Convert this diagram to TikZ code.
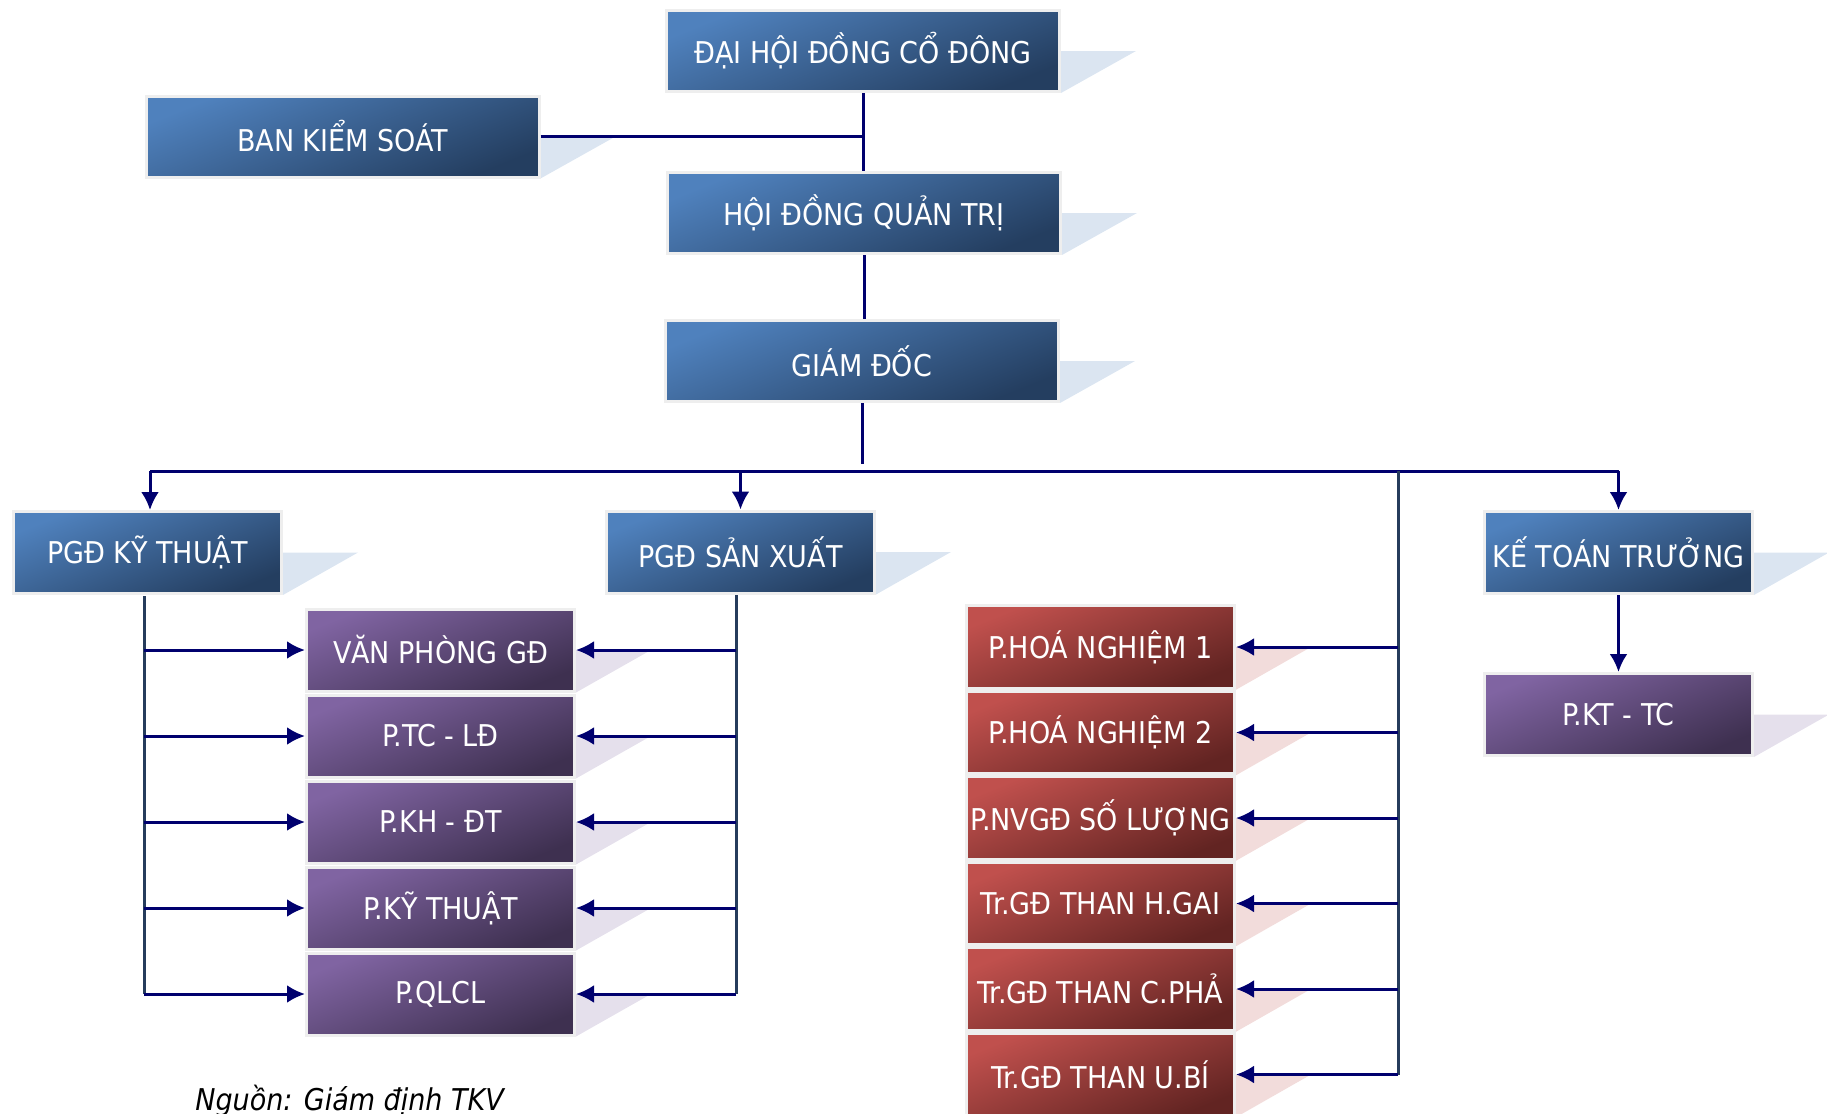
\documentclass[tikz,border=0pt]{standalone}
\usepackage{fontspec}
\setmainfont{DejaVu Sans Condensed}
\usetikzlibrary{arrows.meta,backgrounds,calc}
\definecolor{navyln}{RGB}{0,0,110}
\definecolor{trunk}{RGB}{38,60,92}
\definecolor{blueA}{RGB}{79,129,189}
\definecolor{blueB}{RGB}{36,62,96}
\definecolor{purA}{RGB}{128,100,162}
\definecolor{purB}{RGB}{62,48,80}
\definecolor{redA}{RGB}{192,80,77}
\definecolor{redB}{RGB}{98,36,34}
\definecolor{shBlue}{RGB}{219,229,241}
\definecolor{shPur}{RGB}{229,224,236}
\definecolor{shRed}{RGB}{242,220,219}
\definecolor{edgegray}{RGB}{238,238,238}
\newcommand{\shadowtri}[2]{\fill[#2] (#1.east) -- ++(75,0) -- (#1.south east) -- cycle;}
\begin{document}
\begin{tikzpicture}[x=0.5pt,y=-0.5pt,
  boxbase/.style={draw=edgegray, line width=1.5pt, text=white, inner sep=0pt,
    font=\fontsize{15}{18}\selectfont},
  bigbox/.style={minimum width=196.5pt, minimum height=40.5pt},
  smallbox/.style={minimum width=134pt, minimum height=41pt},
  bluebox/.style={boxbase, top color=blueA, bottom color=blueB, shading angle=22},
  purbox/.style={boxbase, top color=purA, bottom color=purB, shading angle=22, smallbox},
  redbox/.style={boxbase, top color=redA, bottom color=redB, shading angle=22, smallbox, minimum height=41.25pt},
  ln/.style={draw=navyln, line width=1.5pt},
  trunkln/.style={draw=trunk, line width=1.5pt},
  arr/.style={ln, -{Latex[length=9pt,width=9pt]}}
]
\useasboundingbox (0,0) rectangle (1827,1114);

% top level
\node[bluebox, bigbox] (dh) at (863,51) {ĐẠI HỘI ĐỒNG CỔ ĐÔNG};
\node[bluebox, bigbox] (bks) at (342.5,136.5) {BAN KIỂM SOÁT};
\node[bluebox, bigbox] (hdqt) at (864,213) {HỘI ĐỒNG QUẢN TRỊ};
\node[bluebox, bigbox] (gd) at (862,361) {GIÁM ĐỐC};

% second level
\node[bluebox, smallbox] (pkt) at (147.5,552.5) {PGĐ KỸ THUẬT};
\node[bluebox, smallbox] (psx) at (740.5,552) {PGĐ SẢN XUẤT};
\node[bluebox, smallbox] (ktt) at (1618.5,552.5) {KẾ TOÁN TRƯỞNG};
\node[purbox] (pkttc) at (1618.5,714.5) {P.KT - TC};

% purple column
\node[purbox] (p1) at (440.5,650) {VĂN PHÒNG GĐ};
\node[purbox] (p2) at (440.5,736) {P.TC - LĐ};
\node[purbox] (p3) at (440.5,822) {P.KH - ĐT};
\node[purbox] (p4) at (440.5,908) {P.KỸ THUẬT};
\node[purbox] (p5) at (440.5,994) {P.QLCL};

% red column
\node[redbox] (r1) at (1100.5,647) {P.HOÁ NGHIỆM 1};
\node[redbox] (r2) at (1100.5,732.5) {P.HOÁ NGHIỆM 2};
\node[redbox] (r3) at (1100.5,818) {P.NVGĐ SỐ LƯỢNG};
\node[redbox] (r4) at (1100.5,903.5) {Tr.GĐ THAN H.GAI};
\node[redbox] (r5) at (1100.5,989) {Tr.GĐ THAN C.PHẢ};
\node[redbox] (r6) at (1100.5,1074.5) {Tr.GĐ THAN U.BÍ};

% source
\node[anchor=base west, inner sep=0pt, font=\itshape\fontsize{15}{18}\selectfont] (src) at (195,1110) {Nguồn: Giám định TKV};

% shadows
\begin{scope}[on background layer]
  \foreach \n in {dh,bks,hdqt,gd,pkt,psx,ktt} {\shadowtri{\n}{shBlue}}
  \foreach \n in {pkttc,p1,p2,p3,p4,p5} {\shadowtri{\n}{shPur}}
  \foreach \n in {r1,r2,r3,r4,r5,r6} {\shadowtri{\n}{shRed}}
\end{scope}

% top connectors
\draw[ln] (bks.east) -- (bks.east -| dh.south);
\draw[ln] (dh.south) -- (dh.south |- hdqt.north);
\draw[ln] (hdqt.south) -- (hdqt.south |- gd.north);
\coordinate (gdend) at (862,464);
\draw[ln] (gd.south) -- (gdend);

% bus
\coordinate (busL) at (150,471);
\coordinate (busR) at (1618.5,471);
\draw[ln] (busL) -- (busR);
\draw[arr] (busL) -- (busL |- pkt.north);
\draw[arr] (busL -| psx.north) -- (psx.north);
\draw[arr] (busR) -- (ktt.north);
\draw[arr] (ktt.south) -- (pkttc.north);

% trunk PGD KY THUAT
\coordinate (kt0) at (144,596);
\draw[trunkln] (kt0) -- (kt0 |- p5.west);
\foreach \n in {p1,p2,p3,p4,p5} {\draw[arr] (kt0 |- \n.west) -- (\n.west);}

% trunk PGD SAN XUAT
\coordinate (sx0) at (736,595);
\draw[trunkln] (sx0) -- (sx0 |- p5.east);
\foreach \n in {p1,p2,p3,p4,p5} {\draw[arr] (sx0 |- \n.east) -- (\n.east);}

% trunk red
\coordinate (rd0) at (1398,471);
\draw[trunkln] (rd0) -- (rd0 |- r6.east);
\foreach \n in {r1,r2,r3,r4,r5,r6} {\draw[arr] (rd0 |- \n.east) -- (\n.east);}
\end{tikzpicture}
\end{document}
